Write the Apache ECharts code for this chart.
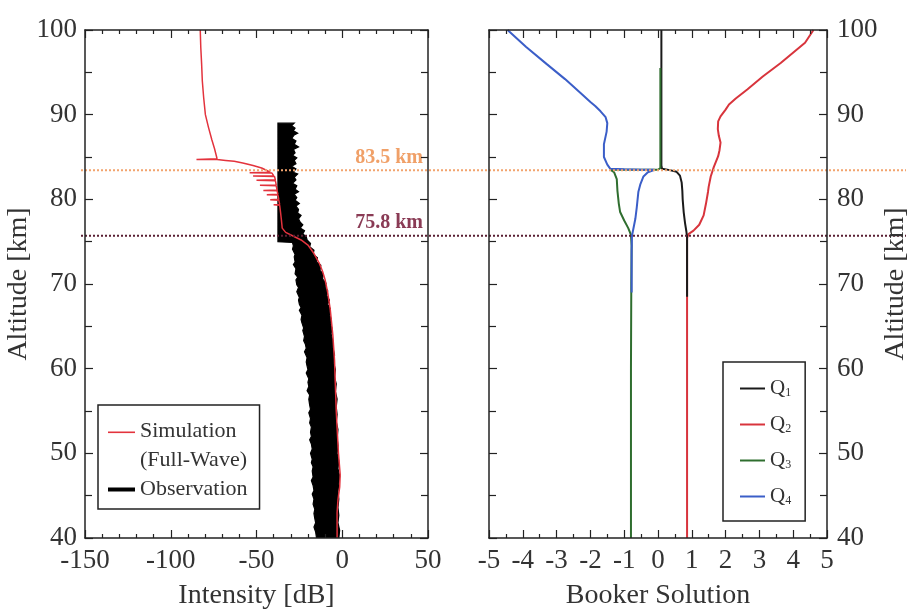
<!DOCTYPE html>
<html>
<head>
<meta charset="utf-8">
<script src="https://cdn.jsdelivr.net/npm/echarts@6/dist/echarts.min.js"></script>
<style>html,body{margin:0;padding:0;background:#fff}#c{width:911px;height:615px}</style>
</head>
<body>
<div id="c"></div>
<script>
// ---------------- data ----------------
// Left panel: [intensity dB, altitude km]
var simulation = [[-82.8,100],[-82.5,98],[-82,96],[-81.6,94],[-80.8,92],[-79.8,90],[-78,88.5],[-76,87],[-74.5,86],[-73.5,85.2],[-73,84.8],[-85,84.7],[-73,84.7],[-68,84.6],[-63,84.5],[-58,84.3],[-52,84.0],[-47,83.7],[-44,83.4],[-42,83.2],[-54,83.15],[-41,83.1],[-40,82.8],[-52,82.75],[-39.5,82.7],[-39,82.3],[-50,82.25],[-39,82.2],[-38.5,81.7],[-48,81.65],[-38.5,81.6],[-38,81.1],[-46,81.05],[-38,81.0],[-37.5,80.6],[-44,80.55],[-37.5,80.5],[-37,80.0],[-42,79.95],[-37,79.9],[-36.5,79.4],[-40,79.35],[-36.5,79.3],[-36,78.5],[-35.5,77.6],[-35,76.6],[-33,76.1],[-29,75.7],[-24,75.2],[-20,74.6],[-16.5,73.6],[-13.5,72.5],[-11.5,71.5],[-10,70.5],[-8.5,69],[-7,67],[-5.5,64],[-4.5,61],[-4,58],[-3.5,55],[-3,53],[-2.2,50],[-1.2,47.5],[-1.5,46],[-2.5,44.5],[-3,43],[-3,40]];
var obsLeft = [[-37.5,89],[-37.5,75.0],[-29,74.9],[-28.5,74.5],[-29,74.1],[-27.5,73.5],[-28,73.2],[-27.5,72.6],[-28.5,72.3],[-27,71.8],[-27.5,71.2],[-26,70.8],[-27,70.5],[-26.5,69.9],[-25.5,69.6],[-26.5,69.1],[-25,68.4],[-25.5,68.1],[-25,67.6],[-24,67.2],[-25,66.9],[-23.5,66.3],[-24,65.8],[-23.5,65.4],[-22.5,64.8],[-23,64.5],[-22,63.8],[-22.5,63.3],[-21.5,62.9],[-21,62.4],[-22,62.0],[-20.5,61.3],[-21,60.8],[-20.5,60.3],[-20,59.9],[-21,59.5],[-19.5,58.8],[-20,58.4],[-19.5,57.9],[-20.5,57.4],[-19,56.9],[-19.5,56.4],[-19,55.7],[-18.5,55.2],[-19.5,54.8],[-18.5,54.1],[-19,53.6],[-18,53.1],[-18.5,52.5],[-18,52.0],[-19,51.6],[-18,51.1],[-17.5,50.5],[-18.5,50.0],[-17.5,49.3],[-18,48.9],[-17,48.4],[-17.5,47.9],[-17,47.2],[-18,46.8],[-17,46.2],[-16.5,45.6],[-17.5,45.2],[-16.5,44.6],[-17,44.0],[-16,43.4],[-16.5,42.9],[-16,42.3],[-15.5,41.8],[-16.5,41.3],[-15.5,40.7],[-15,40]];
var obsRight = [[-28,89],[-29.5,88.7],[-27.5,88.4],[-28.5,88.1],[-26,87.8],[-28,87.6],[-29.5,87.2],[-27,86.9],[-28,86.5],[-25.5,86.2],[-28.5,85.9],[-27.5,85.5],[-29,85.2],[-26.5,84.9],[-28,84.6],[-27,84.2],[-29.5,83.9],[-27,83.6],[-28.5,83.2],[-26,83.0],[-28,82.6],[-27,82.3],[-29,81.9],[-26.5,81.6],[-27.5,81.2],[-25.5,80.9],[-28,80.6],[-26.5,80.2],[-27.5,79.9],[-25,79.5],[-27,79.2],[-25.5,78.8],[-26,78.4],[-24,78.1],[-25.5,77.7],[-24.5,77.3],[-23,77.0],[-24.5,76.6],[-22,76.3],[-23,75.9],[-21,75.6],[-20.5,75.2],[-18.5,74.8],[-19,74.4],[-16.5,74.0],[-17,73.5],[-14.5,73.1],[-15,72.6],[-12.5,72.2],[-13,71.6],[-11,71.2],[-11.5,70.6],[-9.5,70.1],[-10,69.6],[-8.5,69.2],[-9,68.6],[-7.5,68.1],[-8.5,67.6],[-7,67.1],[-7.5,66.4],[-6.5,65.9],[-7,65.3],[-6,64.8],[-6.5,64.1],[-5.5,63.3],[-5.5,62.5],[-4.5,61.6],[-5,60.7],[-4,59.9],[-4.5,59.0],[-3.5,58.2],[-4,57.3],[-3,56.4],[-3.5,55.5],[-3,54.6],[-3.5,53.7],[-2.5,52.8],[-3,51.8],[-2.5,50.9],[-3,50.0],[-2,49.1],[-2.5,48.2],[-1.5,47.3],[-2,46.4],[-2.5,45.5],[-2,44.6],[-2.5,43.6],[-2,42.7],[-2.5,41.8],[-1.5,40.9],[-2,40]];

// Right panel: [Booker solution, altitude km]
var q1 = [[0.1,100],[0.1,84.0],[0.12,83.6],[0.35,83.45],[0.55,83.25],[0.65,82.8],[0.7,82],[0.72,81],[0.73,80],[0.76,78.5],[0.8,77.2],[0.84,76.2],[0.86,75.5],[0.86,72],[0.86,68.5]];
var q2 = [[4.6,100],[4.35,98.5],[3.63,96.1],[3.1,94.5],[2.65,93],[2.3,91.9],[2.1,91.2],[2.0,90.6],[1.85,89.8],[1.78,89.2],[1.77,88.3],[1.8,87.5],[1.85,86.7],[1.82,85.8],[1.78,85.1],[1.65,83.8],[1.56,82.7],[1.5,81.5],[1.48,80.9],[1.42,79.5],[1.35,78.1],[1.22,77],[1.05,76.3],[0.9,75.9],[0.86,75.4],[0.86,60],[0.86,40]];
var q3 = [[0.07,95.5],[0.07,83.7],[0.0,83.5],[-0.5,83.5],[-1.0,83.5],[-1.41,83.5],[-1.3,83.2],[-1.22,82.4],[-1.2,81],[-1.16,79.5],[-1.12,78.5],[-1.0,77.5],[-0.88,76.6],[-0.8,75.8],[-0.78,74.5],[-0.79,70],[-0.8,60],[-0.8,50],[-0.8,40]];
var q4 = [[-4.45,100],[-3.9,98],[-3.3,96],[-2.75,94.2],[-2.3,92.6],[-2.0,91.5],[-1.85,91],[-1.7,90.4],[-1.55,89.7],[-1.5,89],[-1.52,88],[-1.6,86.5],[-1.6,85],[-1.5,84.1],[-1.41,83.6],[-1.0,83.55],[-0.5,83.5],[-0.1,83.5],[-0.3,83.2],[-0.43,82.7],[-0.52,81.8],[-0.58,80.9],[-0.63,79],[-0.67,77.7],[-0.73,76.5],[-0.77,75.7],[-0.78,74],[-0.78,69]];

// reference altitudes (dotted lines)
var markerAltitudes = [83.5, 75.8];
var markerColors = ['#f2a46e', '#5a1f33'];
var markerLabelColors = ['#f0a068', '#8a3b55'];

// tick settings
var intensityTicks = {min: -150, max: 50, interval: 50};
var bookerTicks = {min: -5, max: 5, interval: 1};
var altitudeTicks = {min: 40, max: 100, interval: 10};

// ---------------- chart ----------------
var FONT = 'Liberation Serif';
var AX = '#222';
var TXT = '#333';
var chart = echarts.init(document.getElementById('c'), null, {renderer: 'canvas'});

function axisBase(t, opts) {
  var o = {
    type: 'value', min: t.min, max: t.max, interval: t.interval,
    splitLine: {show: false}, minorSplitLine: {show: false},
    axisLine: {show: true, onZero: false, lineStyle: {color: AX, width: 1.5}},
    axisTick: {show: true, inside: true, length: 8, lineStyle: {color: AX, width: 1.2}},
    minorTick: {show: true, splitNumber: opts.minorSplit, length: opts.minorLen, lineStyle: {color: AX, width: 1.2}},
    axisLabel: {show: opts.labels, fontFamily: FONT, fontSize: 27, color: TXT, margin: opts.margin || 9},
    z: 10
  };
  for (var k in opts.extra || {}) o[k] = opts.extra[k];
  return o;
}

var polygon = obsLeft.concat(obsRight.slice().reverse());
var qIcon = 'path://M0,0M25,20M0,9L25,9L25,11L0,11Z';

var option = {
  animation: false,
  backgroundColor: '#fff',
  grid: [
    {left: 85, top: 30, width: 343, height: 510},
    {left: 489, top: 30, width: 339, height: 510},
    {left: 81, top: 30, width: 825, height: 510}
  ],
  xAxis: [
    axisBase(intensityTicks, {minorSplit: 5, minorLen: 4, labels: true, extra: {gridIndex: 0, position: 'bottom', name: 'Intensity [dB]', nameLocation: 'middle', nameGap: 44, nameTextStyle: {fontFamily: FONT, fontSize: 28, color: TXT}}}),
    axisBase(intensityTicks, {minorSplit: 5, minorLen: 4, labels: false, extra: {gridIndex: 0, position: 'top'}}),
    axisBase(bookerTicks, {minorSplit: 2, minorLen: 4, labels: true, extra: {gridIndex: 1, position: 'bottom', name: 'Booker Solution', nameLocation: 'middle', nameGap: 44, nameTextStyle: {fontFamily: FONT, fontSize: 28, color: TXT}}}),
    axisBase(bookerTicks, {minorSplit: 2, minorLen: 4, labels: false, extra: {gridIndex: 1, position: 'top'}}),
    {type: 'value', gridIndex: 2, min: 0, max: 1, show: false}
  ],
  yAxis: [
    axisBase(altitudeTicks, {minorSplit: 2, minorLen: 7, labels: true, margin: 8, extra: {gridIndex: 0, position: 'left', name: 'Altitude [km]', nameLocation: 'middle', nameGap: 49, nameRotate: 90, nameTextStyle: {fontFamily: FONT, fontSize: 28, color: TXT}}}),
    axisBase(altitudeTicks, {minorSplit: 2, minorLen: 7, labels: false, extra: {gridIndex: 0, position: 'right'}}),
    axisBase(altitudeTicks, {minorSplit: 2, minorLen: 7, labels: true, margin: 10, extra: {gridIndex: 1, position: 'right', name: 'Altitude [km]', nameLocation: 'middle', nameGap: 55, nameRotate: 90, nameTextStyle: {fontFamily: FONT, fontSize: 28, color: TXT}}}),
    axisBase(altitudeTicks, {minorSplit: 2, minorLen: 7, labels: false, extra: {gridIndex: 1, position: 'left'}}),
    {type: 'value', gridIndex: 2, min: altitudeTicks.min, max: altitudeTicks.max, show: false}
  ],
  legend: [
    {
      data: [
        {name: 'Simulation', icon: 'path://M0,0M27,29M0,0L27,0L27,1.6L0,1.6Z'},
        {name: 'Observation', icon: 'path://M0,0M27,29M0,12.5L27,12.5L27,16.5L0,16.5Z'}
      ],
      formatter: function (n) { return n === 'Simulation' ? 'Simulation\n(Full-Wave)' : n; },
      orient: 'vertical', left: 98, top: 405, itemWidth: 27, itemHeight: 29, itemGap: 0,
      padding: [12, 12, 5, 10], borderColor: '#222', borderWidth: 1.5, borderRadius: 0,
      backgroundColor: '#fff', selectedMode: false,
      itemStyle: {borderWidth: 0},
      textStyle: {fontFamily: FONT, fontSize: 22, lineHeight: 29, color: TXT}
    },
    {
      data: [{name: 'Q1', icon: qIcon}, {name: 'Q2', icon: qIcon}, {name: 'Q3', icon: qIcon}, {name: 'Q4', icon: qIcon}],
      formatter: function (n) { return '{q|Q}{s|' + n.slice(1) + '}'; },
      orient: 'vertical', left: 723, top: 362, itemWidth: 25, itemHeight: 20, itemGap: 15,
      padding: [16, 14, 14, 17], borderColor: '#222', borderWidth: 1.5, borderRadius: 0,
      backgroundColor: '#fff', selectedMode: false,
      itemStyle: {borderWidth: 0},
      textStyle: {fontFamily: FONT, color: TXT, rich: {
        q: {fontFamily: FONT, fontSize: 21, lineHeight: 20, color: TXT},
        s: {fontFamily: FONT, fontSize: 12, lineHeight: 20, verticalAlign: 'bottom', color: TXT}
      }}
    }
  ],
  series: [
    {
      name: 'Observation', type: 'custom', xAxisIndex: 0, yAxisIndex: 0,
      data: polygon, encode: {x: 0, y: 1}, clip: true,
      itemStyle: {color: '#000'},
      renderItem: function (params, api) {
        if (params.dataIndex !== 0) return null;
        var pts = polygon.map(function (p) { return api.coord(p); });
        return {type: 'polygon', shape: {points: pts}, style: {fill: '#000', stroke: '#000', lineWidth: 1.2}};
      }
    },
    {
      name: 'Simulation', type: 'line', xAxisIndex: 0, yAxisIndex: 0,
      data: simulation, symbol: 'none', showSymbol: false,
      lineStyle: {color: '#e3333d', width: 1.5}, itemStyle: {color: '#e3333d'},
      markLine: {
        silent: true, symbol: 'none',
        lineStyle: {color: 'rgba(0,0,0,0)', width: 0, type: 'solid'},
        data: markerAltitudes.map(function (a, i) {
          return {yAxis: a, label: {show: true, position: 'insideEndTop', distance: [5, 2], formatter: a.toFixed(1) + ' km', fontFamily: FONT, fontSize: 20, fontWeight: 'bold', color: markerLabelColors[i]}};
        })
      }
    },
    {name: 'Q2', type: 'line', xAxisIndex: 2, yAxisIndex: 2, data: q2, symbol: 'none', lineStyle: {color: '#d8343c', width: 2}, itemStyle: {color: '#d8343c'}},
    {name: 'Q1', type: 'line', xAxisIndex: 2, yAxisIndex: 2, data: q1, symbol: 'none', lineStyle: {color: '#1a1a1a', width: 2}, itemStyle: {color: '#1a1a1a'}},
    {name: 'Q3', type: 'line', xAxisIndex: 2, yAxisIndex: 2, data: q3, symbol: 'none', lineStyle: {color: '#2f6e2f', width: 2}, itemStyle: {color: '#2f6e2f'}},
    {name: 'Q4', type: 'line', xAxisIndex: 2, yAxisIndex: 2, data: q4, symbol: 'none', lineStyle: {color: '#3b5ec8', width: 2}, itemStyle: {color: '#3b5ec8'}}
  ].concat(markerAltitudes.map(function (a, i) {
    return {
      name: 'ref' + a, type: 'line', xAxisIndex: 4, yAxisIndex: 4, z: 5,
      data: [[0, a], [1, a]], symbol: 'none', silent: true,
      lineStyle: {color: markerColors[i], width: 2, type: [2, 2]}
    };
  }))
};
chart.setOption(option);
</script>
</body>
</html>
